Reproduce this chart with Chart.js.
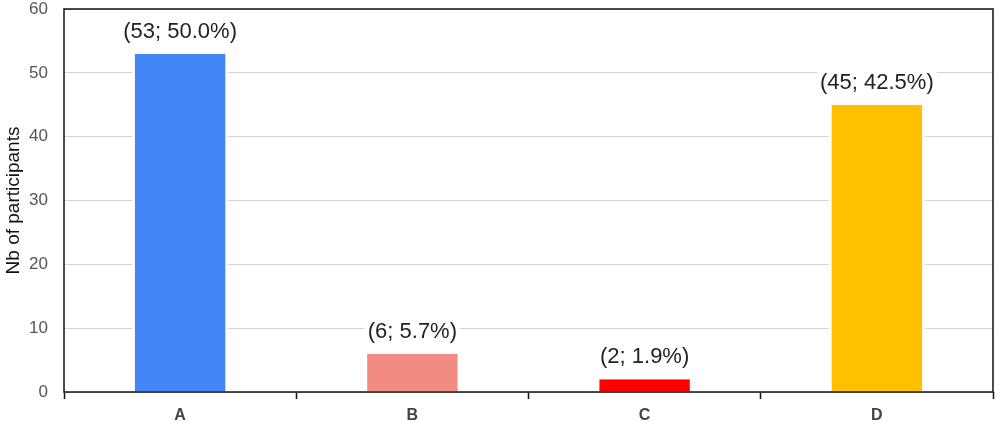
<!DOCTYPE html>
<html>
<head>
<meta charset="utf-8">
<script src="https://cdn.jsdelivr.net/npm/chart.js@4"></script>
<style>
  html, body { margin: 0; padding: 0; background: #fff; }
  #wrap { width: 1000px; height: 423px; }
</style>
</head>
<body>
<div id="wrap"><canvas id="chart"></canvas></div>
<script>
// Participants per answer
const categories = ['A', 'B', 'C', 'D'];
const counts = [53, 6, 2, 45];
const percents = ['50.0', '5.7', '1.9', '42.5'];
const barColors = ['#4285F4', '#F28B82', '#FF0000', '#FFC000'];

const FONT = '"Liberation Sans", Arial, sans-serif';

// Draws "(n; p%)" above each bar on a white patch
const valueLabels = {
  id: 'valueLabels',
  afterDatasetsDraw(chart) {
    const ctx = chart.ctx;
    const meta = chart.getDatasetMeta(0);
    ctx.save();
    ctx.font = '22px ' + FONT;
    ctx.textAlign = 'center';
    ctx.textBaseline = 'middle';
    meta.data.forEach((bar, i) => {
      const text = `(${counts[i]}; ${percents[i]}%)`;
      const y = bar.y - 22;
      const w = ctx.measureText(text).width;
      ctx.fillStyle = '#fff';
      ctx.fillRect(bar.x - w / 2 - 3, y - 12, w + 6, 24);
      ctx.fillStyle = '#222';
      ctx.fillText(text, bar.x, y);
    });
    ctx.restore();
  }
};

// Black frame round the plot area
const frame = {
  id: 'frame',
  afterDraw(chart) {
    const { ctx, chartArea: a } = chart;
    ctx.save();
    ctx.strokeStyle = '#111';
    ctx.lineWidth = 1.5;
    ctx.strokeRect(a.left, a.top, a.right - a.left, a.bottom - a.top);
    ctx.restore();
  }
};

new Chart(document.getElementById('chart'), {
  type: 'bar',
  data: {
    labels: categories,
    datasets: [{
      data: counts,
      backgroundColor: barColors,
      borderColor: '#fff',
      borderWidth: { left: 3, right: 3, top: 0, bottom: 0 },
      borderSkipped: false,
      barPercentage: 1,
      categoryPercentage: 0.415
    }]
  },
  options: {
    responsive: true,
    maintainAspectRatio: false,
    animation: false,
    layout: { padding: { top: 9, right: 7, left: 2, bottom: 0 } },
    plugins: {
      legend: { display: false },
      tooltip: { enabled: false }
    },
    scales: {
      x: {
        afterFit: (scale) => { scale.height = 31; },
        grid: {
          offset: true,
          drawOnChartArea: false,
          drawTicks: true,
          tickLength: 7,
          tickWidth: 1.5,
          tickColor: '#111'
        },
        border: { display: false },
        ticks: {
          color: '#444',
          padding: 7,
          font: { family: FONT, size: 16, weight: 'bold' }
        }
      },
      y: {
        min: 0,
        max: 60,
        afterFit: (scale) => {
          scale.width = 62;
          scale.paddingTop = 0;
          scale.paddingBottom = 0;
        },
        ticks: {
          stepSize: 10,
          color: '#555',
          padding: 16,
          font: { family: FONT, size: 17 }
        },
        grid: { color: '#d4d4d4', lineWidth: 1, drawTicks: false },
        border: { display: false },
        title: {
          display: true,
          text: 'Nb of participants',
          color: '#111',
          padding: { top: 0, bottom: 0 },
          font: { family: FONT, size: 19 }
        }
      }
    }
  },
  plugins: [valueLabels, frame]
});
</script>
</body>
</html>
